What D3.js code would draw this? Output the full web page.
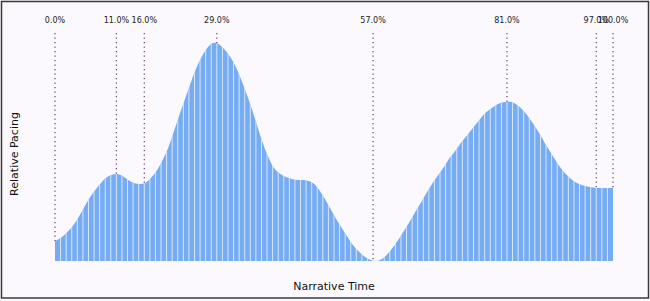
<!DOCTYPE html>
<html>
<head>
<meta charset="utf-8">
<script src="https://cdn.jsdelivr.net/npm/d3@7"></script>
<style>
  html, body { margin: 0; padding: 0; background: #fbf9fd; }
  svg { display: block; font-family: "DejaVu Sans", sans-serif; }
</style>
</head>
<body>
<div id="chart"></div>
<script>
// pacing per narrative slice (100 samples from 0% to 100%)
const pacing = [
  20, 23, 28, 34, 42, 52, 62, 70, 77, 83,
  86, 87, 85, 81, 78, 77, 78, 83, 90, 100,
  112, 128, 145, 161, 177, 192, 204, 213, 218, 217,
  212, 205, 195, 182, 167, 151, 133, 116, 102, 92,
  87, 84, 82, 81, 81, 80, 77, 70, 61, 51,
  41, 32, 23, 15, 9, 4, 1, 0, 2, 7,
  14, 22, 31, 40, 50, 59, 69, 78, 86, 94,
  103, 110, 118, 125, 132, 139, 146, 151, 155, 158,
  159, 159, 156, 151, 144, 136, 127, 117, 108, 99,
  91, 85, 80, 77, 75, 74, 73, 73, 73, 73
];

// marked points along narrative time (%)
const markers = [0, 11, 16, 29, 57, 81, 97, 100];

const W = 650, H = 301;
const plotLeft = 55, plotRight = 613, plotBottom = 261, plotTop = 43;

const svg = d3.select("#chart").append("svg")
    .attr("width", W)
    .attr("height", H);

//рамка
svg.append("rect")
    .attr("x", 1.5).attr("y", 1.5)
    .attr("width", W - 3).attr("height", H - 4.5)
    .attr("fill", "#fbf9fd")
    .attr("stroke", "#3a3a3a")
    .attr("stroke-width", 1.5);

const n = pacing.length;
const x = d3.scaleLinear().domain([0, n - 1]).range([plotLeft, plotRight]);
const band = d3.scaleBand().domain(d3.range(n)).range([plotLeft, plotRight]);
const t = d3.scaleLinear().domain([0, 100]).range([plotLeft, plotRight]);
const y = d3.scaleLinear().domain([0, d3.max(pacing)]).range([plotBottom, plotTop]);

const area = d3.area()
    .x((d, i) => x(i))
    .y0(plotBottom)
    .y1(d => Math.min(plotBottom, y(d)))
    .curve(d3.curveCatmullRom.alpha(0.5));

svg.append("clipPath")
    .attr("id", "fill-clip")
    .append("path")
    .attr("d", area(pacing));

//заливка
svg.append("path")
    .attr("d", area(pacing))
    .attr("fill", "#75acf3");

//белые разделители между срезами
svg.append("g")
    .attr("clip-path", "url(#fill-clip)")
    .selectAll("line")
    .data(d3.range(1, n))
    .join("line")
    .attr("x1", i => band(i))
    .attr("x2", i => band(i))
    .attr("y1", plotTop - 5)
    .attr("y2", plotBottom)
    .attr("stroke", "#ffffff")
    .attr("stroke-opacity", 0.8)
    .attr("stroke-width", 0.9);

//пунктирные отметки
const mk = svg.append("g");
mk.selectAll("line")
    .data(markers)
    .join("line")
    .attr("x1", d => t(d))
    .attr("x2", d => t(d))
    .attr("y1", 33)
    .attr("y2", d => y(pacing[Math.round(d / 100 * (n - 1))]))
    .attr("stroke", "#5a2a66")
    .attr("stroke-opacity", 0.9)
    .attr("stroke-width", 1.2)
    .attr("stroke-dasharray", "1.2,3.3");

mk.selectAll("text")
    .data(markers)
    .join("text")
    .attr("x", d => t(d))
    .attr("y", 23)
    .attr("text-anchor", "middle")
    .attr("font-size", 8)
    .attr("fill", "#222")
    .text(d => d.toFixed(1) + "%");

//подписи осей
svg.append("text")
    .attr("x", (plotLeft + plotRight) / 2)
    .attr("y", 290)
    .attr("text-anchor", "middle")
    .attr("font-size", 11)
    .attr("fill", "#111")
    .text("Narrative Time");

svg.append("text")
    .attr("transform", `translate(18,${(plotTop + plotBottom) / 2 + 2}) rotate(-90)`)
    .attr("text-anchor", "middle")
    .attr("font-size", 11)
    .attr("fill", "#111")
    .text("Relative Pacing");
</script>
</body>
</html>
